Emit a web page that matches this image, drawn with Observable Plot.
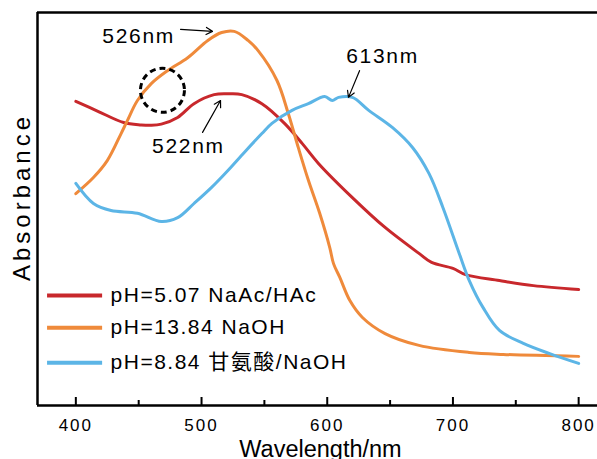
<!DOCTYPE html>
<html><head><meta charset="utf-8">
<script src="https://cdn.jsdelivr.net/npm/d3@7"></script>
<script src="https://cdn.jsdelivr.net/npm/@observablehq/plot@0.6"></script>
<style>body{margin:0;background:#fff}</style>
</head><body><div id="chart"></div>
<script>
const seriesNames = ["pH=5.07 NaAc/HAc", "pH=13.84 NaOH", "pH=8.84 甘氨酸/NaOH"];
const seriesColors = ["#c8282c", "#ef8a3b", "#5cb5e6"];

const redWavelength = [400, 418, 438, 452, 460, 468, 481, 494, 510, 522, 532, 548, 566, 580, 593, 620, 646, 673, 683, 700, 710, 737, 764, 800];
const redAbsorbance = [0.774, 0.748, 0.720, 0.714, 0.713, 0.716, 0.733, 0.768, 0.791, 0.793, 0.791, 0.768, 0.718, 0.667, 0.616, 0.529, 0.453, 0.387, 0.364, 0.349, 0.333, 0.318, 0.305, 0.295];

const orangeWavelength = [400, 414, 425, 436, 441, 449, 460, 473, 489, 505, 516, 526, 537, 545, 560, 569, 577, 585, 594, 602, 605, 610, 618, 628, 646, 673, 713, 740, 800];
const orangeAbsorbance = [0.539, 0.580, 0.623, 0.692, 0.725, 0.776, 0.819, 0.852, 0.885, 0.929, 0.949, 0.952, 0.929, 0.903, 0.827, 0.743, 0.656, 0.573, 0.489, 0.402, 0.361, 0.326, 0.267, 0.224, 0.183, 0.153, 0.135, 0.130, 0.125];

const blueWavelength = [400, 414, 428, 449, 468, 481, 494, 508, 521, 534, 548, 556, 572, 585, 598, 604, 609, 620, 633, 652, 668, 681, 692, 705, 713, 724, 737, 756, 777, 800];
const blueAbsorbance = [0.565, 0.514, 0.496, 0.489, 0.468, 0.478, 0.514, 0.555, 0.598, 0.644, 0.692, 0.718, 0.751, 0.768, 0.786, 0.776, 0.784, 0.784, 0.751, 0.707, 0.656, 0.590, 0.504, 0.387, 0.318, 0.249, 0.191, 0.158, 0.132, 0.107];

const peakLabels = ["526nm", "522nm", "613nm"];
const peakLabelWavelength = [450, 489.6, 644];
const peakLabelAbsorbance = [0.939, 0.659, 0.889];
const arrowTailWavelength = [483.3, 500.8, 625.7];
const arrowTailAbsorbance = [0.957, 0.695, 0.852];
const arrowHeadWavelength = [508.7, 515.1, 616.9];
const arrowHeadAbsorbance = [0.952, 0.776, 0.784];

const circleWavelength = [468.9];
const circleAbsorbance = [0.802];

const majorTicks = [400, 500, 600, 700, 800];
const minorTicks = [450, 550, 650, 750];

const xDomain = [369.5, 815];
const yDomain = [0, 1];

const lineData = [
  ...redWavelength.map((w, i) => ({series: seriesNames[0], wl: w, abs: redAbsorbance[i]})),
  ...orangeWavelength.map((w, i) => ({series: seriesNames[1], wl: w, abs: orangeAbsorbance[i]})),
  ...blueWavelength.map((w, i) => ({series: seriesNames[2], wl: w, abs: blueAbsorbance[i]}))
];
const peaks = peakLabels.map((t, i) => ({t, x: peakLabelWavelength[i], y: peakLabelAbsorbance[i],
  x1: arrowTailWavelength[i], y1: arrowTailAbsorbance[i], x2: arrowHeadWavelength[i], y2: arrowHeadAbsorbance[i]}));
const circles = circleWavelength.map((w, i) => ({x: w, y: circleAbsorbance[i]}));
const legendY = [0.280, 0.198, 0.109];

const svg = Plot.plot({
  width: 597, height: 459,
  marginLeft: 37, marginRight: 0, marginTop: 12, marginBottom: 54,
  x: {domain: xDomain, axis: null},
  y: {domain: yDomain, axis: null},
  color: {domain: seriesNames, range: seriesColors},
  style: {fontFamily: "'Liberation Sans', Arial, 'Noto Sans CJK SC', sans-serif", fontSize: "17px", color: "black", background: "white"},
  marks: [
    Plot.ruleY(yDomain, {stroke: "black", strokeWidth: 2.5}),
    Plot.ruleX([xDomain[0]], {stroke: "black", strokeWidth: 2.5}),
    Plot.tickX(majorTicks, {x: d => d, insetTop: 385, stroke: "black", strokeWidth: 2}),
    Plot.tickX(minorTicks, {x: d => d, insetTop: 388, stroke: "black", strokeWidth: 2}),
    Plot.axisX({ticks: majorTicks, tickSize: 0, tickPadding: 13, fontSize: 17, label: null}),
    Plot.line(lineData, {x: "wl", y: "abs", z: "series", stroke: "series", strokeWidth: 3, curve: "catmull-rom"}),
    Plot.dot(circles, {x: "x", y: "y", r: 22, stroke: "black", strokeWidth: 3, strokeDasharray: "6,4", fill: "none"}),
    Plot.arrow(peaks, {x1: "x1", y1: "y1", x2: "x2", y2: "y2", stroke: "black", strokeWidth: 1.2, headLength: 9}),
    Plot.text(peaks, {x: "x", y: "y", text: "t", fontSize: 21}),
    Plot.ruleY(seriesNames, {y: (d, i) => legendY[i], x1: 377.5, x2: 421.3, stroke: d => d, strokeWidth: 4}),
    Plot.text(seriesNames, {x: 427.6, y: (d, i) => legendY[i], text: d => d, textAnchor: "start", fontSize: 21}),
    Plot.text(["Absorbance"], {frameAnchor: "left", textAnchor: "middle", lineAnchor: "middle", rotate: -90, dx: -15, dy: -12, fontSize: 24}),
    Plot.text(["Wavelength/nm"], {frameAnchor: "bottom", textAnchor: "middle", lineAnchor: "middle", dx: 3, dy: 44, fontSize: 23.5})
  ]
});

d3.select(svg).selectAll("text").each(function() {
  const t = this.textContent;
  let ls = null;
  if (majorTicks.map(String).includes(t)) ls = "2px";
  else if (seriesNames.includes(t)) ls = "1.5px";
  else if (peakLabels.includes(t)) ls = "1.7px";
  else if (t === "Absorbance") ls = "4px";
  if (ls) d3.select(this).style("letter-spacing", ls);
});

document.getElementById("chart").appendChild(svg);
</script>
</body></html>
